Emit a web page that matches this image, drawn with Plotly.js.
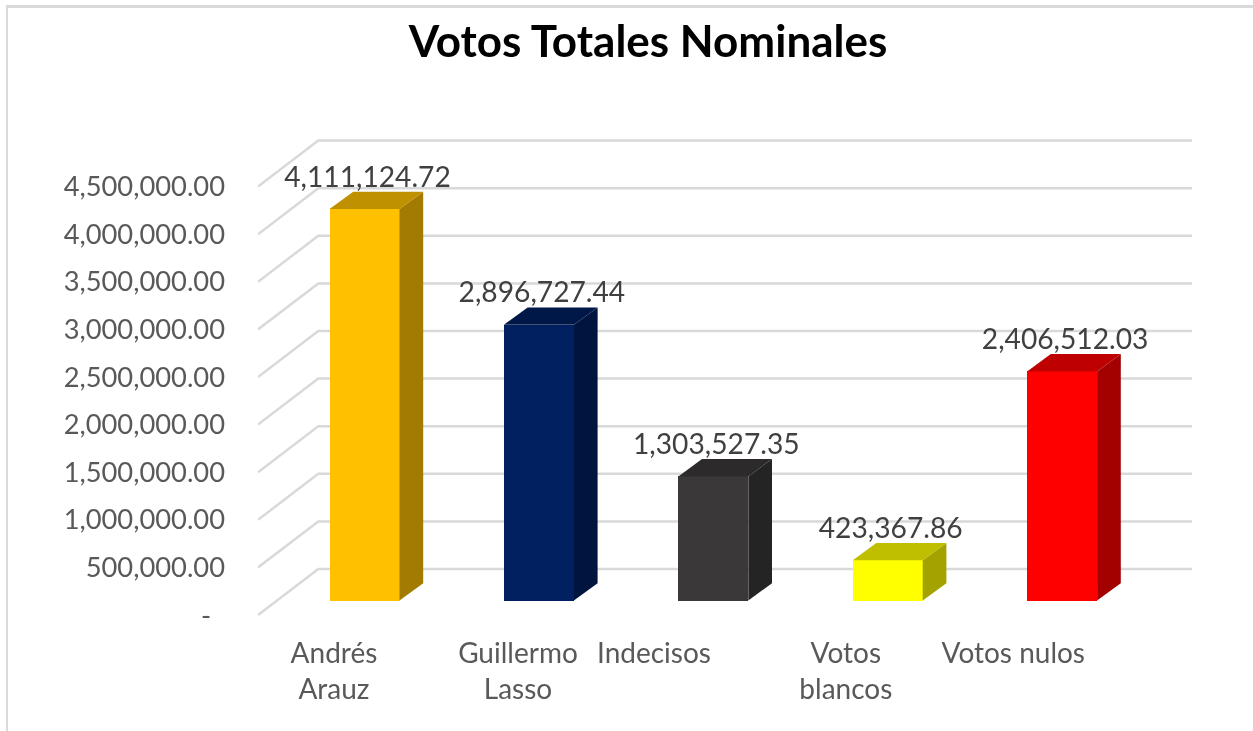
<!DOCTYPE html>
<html>
<head>
<meta charset="utf-8">
<script src="https://cdn.plot.ly/plotly-3.0.1.min.js"></script>
<style>
html,body{margin:0;padding:0;background:#fff;width:1253px;height:731px;overflow:hidden}
#frame{position:absolute;left:6px;top:5px;right:0;bottom:0;border-left:2px solid #d9d9d9;border-top:3px solid #d9d9d9}
#chart{position:absolute;left:0;top:0;width:1253px;height:731px;filter:blur(0.4px)}
</style>
</head>
<body>
<div id="frame"></div>
<div id="chart"></div>
<script>
// ---- data ----
const categories = ["Andrés<br>Arauz", "Guillermo<br>Lasso", "Indecisos", "Votos<br>blancos", "Votos nulos"];
const votes = [4111124.72, 2896727.44, 1303527.35, 423367.86, 2406512.03];
const barColors = ["#FFC000", "#002060", "#3A3838", "#FFFF00", "#FF0000"];
const topColors = ["#BF9000", "#001848", "#2C2A2A", "#BFBF00", "#BF0000"];
const sideColors = ["#A37B00", "#001440", "#252424", "#A3A300", "#A30000"];
const axisTicks = [0, 500000, 1000000, 1500000, 2000000, 2500000, 3000000, 3500000, 4000000, 4500000];
const labelShift = [-0.175, -0.12, -0.34, -0.24, -0.28];

// ---- layout geometry (pixels on the page) ----
const plotL = 258, plotR = 1192, plotT = 100, plotB = 625;
const unitPx = 174.4, firstBarPx = 364.5;
const valPerPx = 500000 / 47.6;
const barZeroPx = 600.5, wallZeroPx = 615;
const barWidth = 70 / unitPx;
const depthX = 23.7 / unitPx, depthY = 17.3 * valPerPx;
const wallX = 60.3 / unitPx, wallY = 46 * valPerPx;
const xRange = [(plotL - firstBarPx) / unitPx, (plotR - firstBarPx) / unitPx];
const barRange = [(barZeroPx - plotB) * valPerPx, (barZeroPx - plotT) * valPerPx];
const wallRange = [(wallZeroPx - plotB) * valPerPx, (wallZeroPx - plotT) * valPerPx];
const gray = "#595959";
const font = "Lato, 'Open Sans', sans-serif";

const traces = [];
// back wall + side wall grid lines
const gx = [], gy = [];
axisTicks.forEach(v => {
  gx.push(xRange[0], xRange[0] + wallX, xRange[1], null);
  gy.push(v, v + wallY, v + wallY, null);
});
traces.push({type: "scatter", mode: "lines", x: gx, y: gy, xaxis: "x", yaxis: "y",
  line: {color: "#D9D9D9", width: 2.5}, hoverinfo: "skip", showlegend: false});

// extruded faces
votes.forEach((v, i) => {
  const l = i - barWidth / 2, r = i + barWidth / 2;
  traces.push({type: "scatter", mode: "lines", fill: "toself", fillcolor: sideColors[i],
    x: [r, r + depthX, r + depthX, r, r], y: [0, depthY, v + depthY, v, 0],
    xaxis: "x", yaxis: "y2", line: {width: 0, color: sideColors[i]}, hoverinfo: "skip", showlegend: false});
  traces.push({type: "scatter", mode: "lines", fill: "toself", fillcolor: topColors[i],
    x: [l, l + depthX, r + depthX, r, l], y: [v, v + depthY, v + depthY, v, v],
    xaxis: "x", yaxis: "y2", line: {width: 0, color: topColors[i]}, hoverinfo: "skip", showlegend: false});
});

// front faces
traces.push({type: "bar", x: votes.map((_, i) => i), y: votes, width: barWidth, xaxis: "x", yaxis: "y2",
  marker: {color: barColors, line: {width: 0}}, showlegend: false, hoverinfo: "y"});

const fmt = v => v.toLocaleString("en-US", {minimumFractionDigits: 2, maximumFractionDigits: 2});
// data labels
traces.push({type: "scatter", mode: "text", x: votes.map((_, i) => i + 3 / unitPx),
  y: votes.map(v => v + depthY + 12 * valPerPx), text: votes.map(fmt), textposition: "middle center",
  textfont: {family: font, size: 28.2, color: "#404040"}, xaxis: "x", yaxis: "y2",
  hoverinfo: "skip", showlegend: false, cliponaxis: false});

const layout = {
  width: 1253, height: 731,
  margin: {l: plotL, r: 1253 - plotR, t: plotT, b: 731 - plotB, pad: 0},
  paper_bgcolor: "rgba(0,0,0,0)", plot_bgcolor: "rgba(0,0,0,0)",
  showlegend: false, bargap: 0,
  title: {text: "<b>Votos Totales Nominales</b>", xref: "container", yref: "container",
    x: 648 / 1253, y: 1 - 42 / 731, xanchor: "center", yanchor: "middle",
    font: {family: font, size: 44, color: "#000"}},
  xaxis: {type: "linear", range: xRange, showgrid: false, zeroline: false, showline: false, ticks: "",
    tickmode: "array", tickvals: categories.map((_, i) => i + labelShift[i]), ticktext: categories,
    tickfont: {family: font, size: 28, color: gray}, tickangle: 0, ticklabelstandoff: 9},
  yaxis: {type: "linear", range: wallRange, showgrid: false, zeroline: false, showline: false, ticks: "",
    tickmode: "array", tickvals: axisTicks, ticktext: axisTicks.map(v => v === 0 ? "-\u00A0\u00A0" : fmt(v)),
    tickfont: {family: font, size: 27.3, color: gray}, ticklabelstandoff: 32},
  yaxis2: {type: "linear", range: barRange, overlaying: "y", visible: false, showgrid: false, zeroline: false}
};
Plotly.newPlot("chart", traces, layout, {displayModeBar: false, responsive: false});
</script>
</body>
</html>
